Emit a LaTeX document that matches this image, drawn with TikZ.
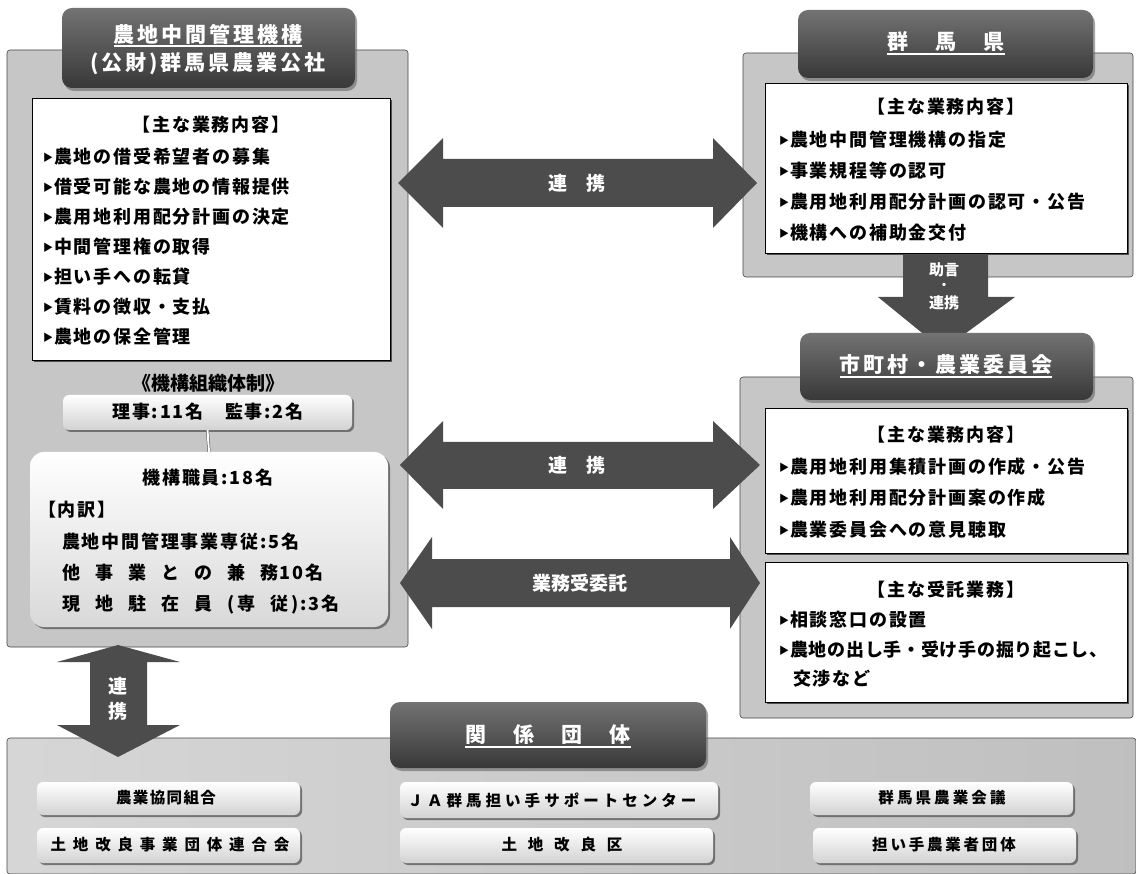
\documentclass[tikz,border=0pt]{standalone}
\usepackage{fontspec}
\setmainfont{Noto Sans CJK JP}
\newfontfamily\jp{Noto Sans CJK JP}
\usetikzlibrary{shadows,fit}
\newcommand\bodyf{\jp\bfseries\fontsize{18}{20}\selectfont\addfontfeature{LetterSpace=10}}
\newcommand\headf{\jp\bfseries\fontsize{21}{24}\selectfont\addfontfeature{LetterSpace=14}}
\newcommand\arrf{\jp\bfseries\fontsize{19}{20}\selectfont}
\newcommand\smf[1]{\jp\bfseries\fontsize{15.5}{16}\selectfont\addfontfeature{LetterSpace=#1}}
\newcommand\gp{\hspace{15pt}}
\newcommand\tri{\raisebox{2pt}{\fontsize{10}{10}\selectfont ▶}\hspace{1pt}}
\tikzset{
  panel/.style={draw=gray!55!black, line width=0.6pt, fill=gray!45, rounded corners=3pt, inner sep=0pt},
  hdr/.style={top color=black!55, bottom color=black!78, rounded corners=10pt, inner sep=0pt,
    drop shadow={shadow xshift=2pt, shadow yshift=-3pt, fill=black!60, opacity=0.6}},
  wbox/.style={draw=black, line width=0.9pt, fill=white, inner sep=0pt,
    drop shadow={shadow xshift=2pt, shadow yshift=-2pt, fill=black!80, opacity=0.8}},
  sbox/.style={top color=white, bottom color=gray!30, rounded corners=14pt, inner sep=0pt,
    drop shadow={shadow xshift=2pt, shadow yshift=-2pt, fill=black!70, opacity=0.7}},
  pill/.style={top color=white, bottom color=gray!35, rounded corners=6pt, inner sep=0pt,
    drop shadow={shadow xshift=2pt, shadow yshift=-2pt, fill=black!70, opacity=0.7}},
  blk/.style={fill=black!70},
  txt/.style={inner sep=0pt, font=\bodyf},
  item/.style={txt, anchor=west},
  htxt/.style={inner sep=0pt, text=white, font=\headf},
  atxt/.style={inner sep=0pt, text=white, font=\arrf},
  uline/.style={white, line width=1.6pt},
}
\begin{document}
\begin{tikzpicture}[x=1pt,y=-1pt]
\path[use as bounding box, fill=white] (0,0) rectangle (1136,874);

% panels
\node[panel, fit={(7,50)(408,647)}] (lpanel) {};
\node[panel, fit={(743,53)(1133,277)}] (rpanel1) {};
\node[panel, fit={(740,377)(1133,718)}] (rpanel2) {};
\node[panel, left color=gray!32, right color=gray!50, fit={(7,738)(1136,874)}] (bpanel) {};

% left header
\node[hdr, fit={(62,8)(355,88)}] (h1) {};
\node[htxt] (h1a) at (208,34) {農地中間管理機構};
\draw[uline] ([yshift=-1.5pt]h1a.south west) -- ([yshift=-1.5pt]h1a.south east);
\node[htxt] (h1b) at (208,64) {(公財)群馬県農業公社};

% left white box
\node[wbox, fit={(32,98)(390,360)}] (lbox) {};
\node[txt] (lb0) at (211,125) {【主な業務内容】};
\node[item] (lb1) at (43,157) {\tri 農地の借受希望者の募集};
\node[item] (lb2) at (43,187) {\tri 借受可能な農地の情報提供};
\node[item] (lb3) at (43,217) {\tri 農用地利用配分計画の決定};
\node[item] (lb4) at (43,247) {\tri 中間管理権の取得};
\node[item] (lb5) at (43,277) {\tri 担い手への転貸};
\node[item] (lb6) at (43,307) {\tri 賃料の徴収・支払};
\node[item] (lb7) at (43,337) {\tri 農地の保全管理};

% organisation
\node[txt, font=\jp\bfseries\fontsize{19}{20}\selectfont] (org) at (208,383) {《機構組織体制》};
\node[pill, fit={(63,395)(352,430)}] (riji) {};
\node[txt] (rijit) at (208,412) {理事:11名　監事:2名};
\node[sbox, fit={(30,452)(388,627)}] (staff) {};
\draw[gray!60!black, double, double distance=2pt, line width=0.5pt] (riji.south) -- (staff.north);
\node[txt] (st0) at (208,478) {機構職員:18名};
\node[item] (st1) at (38,510) {【内訳】};
\node[item] (st2) at (62,542) {農地中間管理事業専従:5名};
\node[item] (st3) at (62,573) {他\gp 事\gp 業\gp と\gp の\gp 兼\gp 務10名};
\node[item] (st4) at (62,605) {現\gp 地\gp 駐\gp 在\gp 員\gp (\,専\gp 従\,):3名};

% right top
\node[hdr, fit={(798,10)(1093,78)}] (h2) {};
\node[htxt] (h2a) at (946,42) {群　馬　県};
\draw[uline] ([yshift=-2pt]h2a.south west) -- ([yshift=-2pt]h2a.south east);
\node[wbox, fit={(765,83)(1127,253)}] (rbox1) {};
\node[txt] (rb0) at (946,107) {【主な業務内容】};
\node[item] (rb1) at (779,140) {\tri 農地中間管理機構の指定};
\node[item] (rb2) at (779,171) {\tri 事業規程等の認可};
\node[item] (rb3) at (779,202) {\tri 農用地利用配分計画の認可・公告};
\node[item] (rb4) at (779,233) {\tri 機構への補助金交付};

% down arrow
\fill[blk] (903,255) -- (988,255) -- (988,297) -- (1015,297) -- (943,350) -- (878,297) -- (903,297) -- cycle;
\node[atxt, font=\jp\bfseries\fontsize{15}{16}\selectfont] (dj1) at (944,270) {助言};
\node[atxt, font=\jp\bfseries\fontsize{12}{12}\selectfont] (dj2) at (944,286) {・};
\node[atxt, font=\jp\bfseries\fontsize{15}{16}\selectfont] (dj3) at (944,303) {連携};

% right lower
\node[hdr, fit={(800,333)(1093,400)}] (h3) {};
\node[htxt] (h3a) at (946,365) {市町村・農業委員会};
\draw[uline] ([yshift=-2pt]h3a.south west) -- ([yshift=-2pt]h3a.south east);
\node[wbox, fit={(765,408)(1127,553)}] (rbox2) {};
\node[txt] (rc0) at (946,435) {【主な業務内容】};
\node[item] (rc1) at (779,467) {\tri 農用地利用集積計画の作成・公告};
\node[item] (rc2) at (779,498) {\tri 農用地利用配分計画案の作成};
\node[item] (rc3) at (779,530) {\tri 農業委員会への意見聴取};
\node[wbox, fit={(765,562)(1127,702)}] (rbox3) {};
\node[txt] (rd0) at (946,590) {【主な受託業務】};
\node[item] (rd1) at (779,620) {\tri 相談窓口の設置};
\node[item, font=\jp\bfseries\fontsize{18}{20}\selectfont\addfontfeature{LetterSpace=4}] (rd2) at (779,650) {\tri 農地の出し手・受け手の掘り起こし、};
\node[item] (rd3) at (793,679) {交渉など};

% horizontal arrows
\fill[blk] (398,183) -- (443,138) -- (443,159) -- (713,159) -- (713,138) -- (757,183) -- (713,228) -- (713,207) -- (443,207) -- (443,228) -- cycle;
\node[atxt] (a1) at (577,183) {連　携};
\fill[blk] (400,465) -- (443,421) -- (443,442) -- (713,442) -- (713,421) -- (760,465) -- (713,509) -- (713,489) -- (443,489) -- (443,509) -- cycle;
\node[atxt] (a2) at (577,465) {連　携};
\fill[blk] (400,583) -- (432,537) -- (432,559) -- (730,559) -- (730,537) -- (760,583) -- (730,629) -- (730,607) -- (432,607) -- (432,629) -- cycle;
\node[atxt] (a3) at (580,583) {業務受委託};

% vertical arrow bottom-left
\fill[blk] (118,645) -- (180,662) -- (147,662) -- (147,725) -- (180,725) -- (118,757) -- (57,725) -- (90,725) -- (90,662) -- (57,662) -- cycle;
\node[atxt] (v1) at (118,686) {連};
\node[atxt] (v2) at (118,711) {携};

% bottom
\node[hdr, fit={(390,702)(706,768)}] (h4) {};
\node[htxt] (h4a) at (548,735) {関　係　団　体};
\draw[uline] ([yshift=-2pt]h4a.south west) -- ([yshift=-2pt]h4a.south east);
\node[pill, fit={(37,782)(300,815)}] (b1) {};
\node[inner sep=0pt, font=\smf{9}] (b1t) at (166,798) {農業協同組合};
\node[pill, fit={(37,828)(300,863)}] (b2) {};
\node[inner sep=0pt, font=\smf{44}] (b2t) at (170,845) {土地改良事業団体連合会};
\node[pill, fit={(400,782)(718,818)}] (b3) {};
\node[inner sep=0pt, font=\smf{26}] (b3t) at (552,800) {ＪＡ群馬担い手サポートセンター};
\node[pill, fit={(400,828)(713,863)}] (b4) {};
\node[inner sep=0pt, font=\smf{70}] (b4t) at (562,845) {土地改良区};
\node[pill, fit={(810,782)(1073,815)}] (b5) {};
\node[inner sep=0pt, font=\smf{20}] (b5t) at (942,798) {群馬県農業会議};
\node[pill, fit={(813,828)(1076,863)}] (b6) {};
\node[inner sep=0pt, font=\smf{18}] (b6t) at (944,845) {担い手農業者団体};
\end{tikzpicture}
\end{document}
